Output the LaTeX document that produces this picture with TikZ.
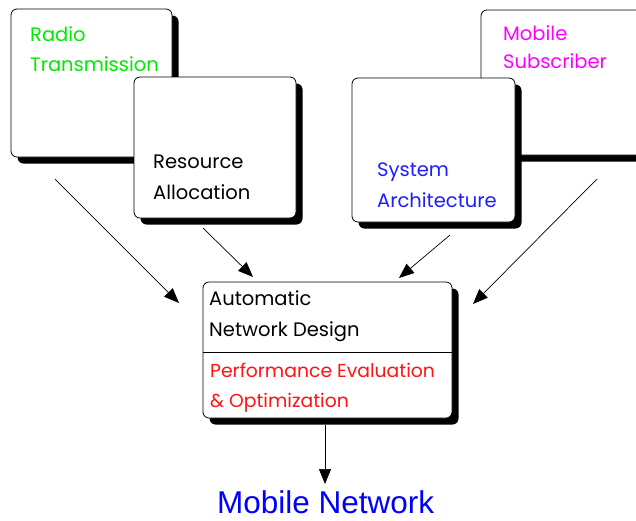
\documentclass[tikz,border=0pt]{standalone}
\usepackage{fontspec}
\setmainfont{Poppins}
\newfontfamily\arialfont{Liberation Sans}
\usetikzlibrary{arrows.meta,shadows}
\definecolor{cgreen}{RGB}{0,235,0}
\definecolor{cmag}{RGB}{255,0,255}
\definecolor{cblue}{RGB}{30,30,255}
\definecolor{cred}{RGB}{255,20,20}
\begin{document}
\begin{tikzpicture}[x=1pt,y=-1pt,
  sbox/.style={draw=black,line width=0.8pt,fill=white,rounded corners=6pt,
    minimum width=#1,inner sep=0pt,
    drop shadow={shadow xshift=6.5pt,shadow yshift=-6.5pt,opacity=1,fill=black}},
  lbl/.style={anchor=base west,inner sep=0pt,font=\fontsize{19.5}{22}\selectfont},
  rlbl/.style={anchor=base west,inner sep=0pt,font=\fontsize{18.8}{21}\selectfont,text=cred},
  arr/.style={line width=0.7pt,-{Triangle[length=15pt,width=12pt]}}]
\useasboundingbox (0,0) rectangle (636,520);
% top-left group
\node[sbox=161pt,minimum height=148pt] (b1) at (91.5,83) {};
\node[lbl,text=cgreen] (t1a) at (30,41) {Radio};
\node[lbl,text=cgreen] (t1b) at (30,71) {Transmission};
\node[sbox=162pt,minimum height=141pt] (b2) at (215,147.5) {};
\node[lbl] (t2a) at (153,168) {Resource};
\node[lbl] (t2b) at (153,199) {Allocation};
% top-right group (box runs past the right edge)
\begin{scope}
\clip (0,0) rectangle (636,520);
\node[sbox=161pt,minimum height=145pt] (b4) at (561.5,82.5) {};
\end{scope}
\node[lbl,text=cmag] (t4a) at (503,40) {Mobile};
\node[lbl,text=cmag] (t4b) at (503,68) {Subscriber};
\node[sbox=163pt,minimum height=144pt] (b3) at (433.5,150) {};
\node[lbl,text=cblue] (t3a) at (377,176) {System};
\node[lbl,text=cblue] (t3b) at (377,207) {Architecture};
% central
\node[sbox=249pt,minimum height=136pt] (c) at (327.5,350) {};
\draw[line width=0.8pt] (c.west |- 0,352) -- (c.east |- 0,352);
\node[lbl] (c1) at (209,305) {Automatic};
\node[lbl] (c2) at (209,336) {Network Design};
\node[rlbl] (c3) at (210,377) {Performance Evaluation};
\node[rlbl] (c4) at (210,407) {\& Optimization};
% result
\node[anchor=base west,inner sep=0pt,text depth=0pt,text=blue,font=\arialfont\fontsize{31.5}{36}\selectfont] (mn) at (217,513) {Mobile Network};
% arrow coordinates
\coordinate (a1s) at (55,179); \coordinate (a1e) at (179,303);
\coordinate (a2s) at (203,228); \coordinate (a2e) at (253,277);
\coordinate (a3s) at (450,235); \coordinate (a3e) at (399,278);
\coordinate (a4s) at (597,179); \coordinate (a4e) at (473,304);
\coordinate (a5s) at (325,425); \coordinate (a5e) at (325,484);
\draw[arr] (a1s) -- (a1e);
\draw[arr] (a2s) -- (a2e);
\draw[arr] (a3s) -- (a3e);
\draw[arr] (a4s) -- (a4e);
\draw[arr] (a5s) -- (a5e);
\end{tikzpicture}
\end{document}
